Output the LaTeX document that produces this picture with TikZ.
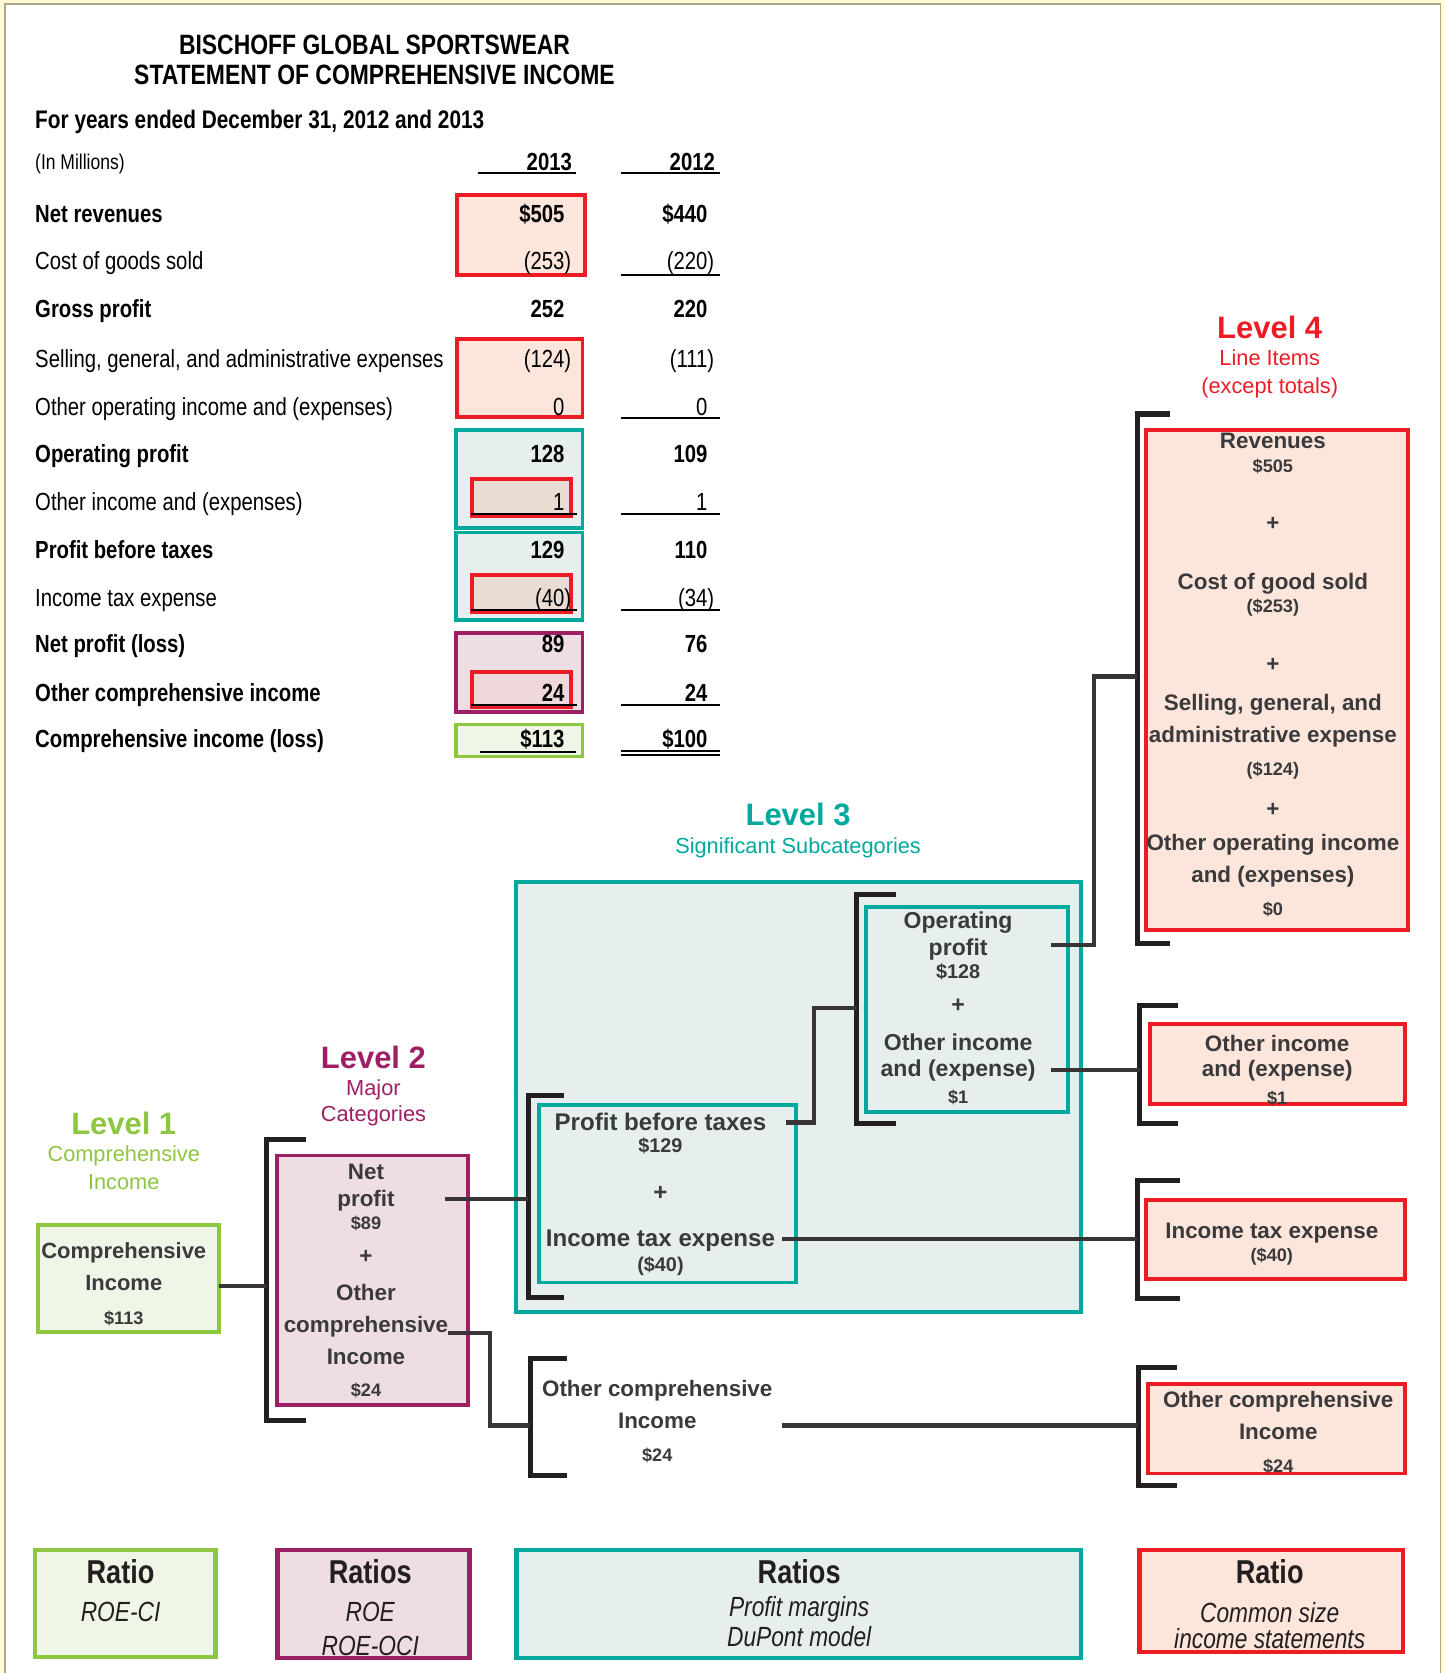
\documentclass[tikz,border=0pt]{standalone}
\usepackage{fontspec}
\setmainfont{Liberation Sans}
\newfontfamily\narrowfont[FakeStretch=0.82]{Liberation Sans}
\usetikzlibrary{fit}

\definecolor{lvred}{HTML}{ED1C24}
\definecolor{lvredfill}{HTML}{FCE5DA}
\definecolor{lvteal}{HTML}{00A99D}
\definecolor{lvtealfill}{HTML}{E6EFEE}
\definecolor{lvpurple}{HTML}{9E1F63}
\definecolor{lvpurplefill}{HTML}{EEDEE4}
\definecolor{lvgreen}{HTML}{8DC63F}
\definecolor{lvgreenfill}{HTML}{F0F6E7}
\definecolor{redonteal}{HTML}{E8DCD3}
\definecolor{redonpurple}{HTML}{EED8D9}
\definecolor{inktext}{HTML}{3A3A3C}
\definecolor{bracketink}{HTML}{231F20}
\definecolor{pagecream}{HTML}{FFFAD2}
\definecolor{pageedge}{HTML}{A9A88F}

% table fonts
\newcommand\tb{\narrowfont\bfseries\fontsize{11.6}{13}\selectfont}
\newcommand\tr{\narrowfont\fontsize{11.6}{13}\selectfont}
\newcommand\rp{\rlap{)}}
% amounts inside the level boxes
\newcommand\amt[1]{{\fontsize{8.5}{10}\selectfont #1}}
\newcommand\amtb[1]{{\fontsize{9.3}{10}\selectfont #1}}
\newcommand\lvtitle{\bfseries\fontsize{14.5}{16}\selectfont}
\newcommand\rtitle{\upshape\bfseries\fontsize{15.5}{16}\selectfont}

\begin{document}
\begin{tikzpicture}[x=0.5pt,y=-0.5pt,
  every node/.style={inner sep=0pt,outer sep=0pt},
  redbox/.style={draw=lvred,fill=lvredfill,line width=1.8pt,inner sep=0pt},
  tealbox/.style={draw=lvteal,fill=lvtealfill,line width=1.8pt,inner sep=0pt},
  purplebox/.style={draw=lvpurple,fill=lvpurplefill,line width=1.8pt,inner sep=0pt},
  greenbox/.style={draw=lvgreen,fill=lvgreenfill,line width=1.8pt,inner sep=0pt},
  lbl/.style={text=inktext,align=center,anchor=north,font=\bfseries\fontsize{10.5}{12.5}\selectfont},
  lvl/.style={align=center,anchor=north,font=\fontsize{10.2}{12.5}\selectfont},
  ratio/.style={text=bracketink,align=center,anchor=north,font=\narrowfont\itshape\fontsize{13}{14}\selectfont},
  brk/.style={draw=bracketink,line width=2.4pt},
  conn/.style={draw=bracketink!90!white,line width=2pt},
  uline/.style={line width=0.8pt}]

\useasboundingbox (0,0) rectangle (1354,1568);
\fill[pagecream] (0,0) rectangle (1354,1568);
\fill[white] (5,4) rectangle (1350,1580);
\draw[pageedge,line width=0.8pt] (5,1580) -- (5,4) -- (1350,4) -- (1350,1580);

% ---- statement ----
\node[font=\narrowfont\bfseries\fontsize{13.1}{14}\selectfont,align=center] (title) at (351,56)
  {BISCHOFF GLOBAL SPORTSWEAR\\STATEMENT OF COMPREHENSIVE INCOME};
\node[anchor=base west,font=\narrowfont\bfseries\fontsize{11.9}{13}\selectfont] (period) at (33,120)
  {For years ended December 31, 2012 and 2013};
\node[anchor=base west,font=\narrowfont\fontsize{10}{12}\selectfont] (unit) at (33,159) {(In Millions)};
\node[anchor=base east,font=\tb] (yr13) at (536,160) {2013};
\node[anchor=base east,font=\tb] (yr12) at (670,160) {2012};
\draw[uline] (448,162) -- (540,162);
\draw[uline] (582,162) -- (675,162);

\node[redbox,fit={(428,183) (548,258)}] (t-rev) {};
\node[redbox,fit={(428,318) (546,391)}] (t-sga) {};
\node[tealbox,fit={(427,403) (546,495)}] (t-op) {};
\node[tealbox,fit={(427,499) (546,581)}] (t-pbt) {};
\node[redbox,fill=redonteal,fit={(442,449) (535,484)}] (t-oi) {};
\node[redbox,fill=redonteal,fit={(442,539) (535,574)}] (t-it) {};
\node[purplebox,fit={(427,593) (546,667)}] (t-np) {};
\node[redbox,fill=redonpurple,fit={(442,630) (535,663)}] (t-oci) {};
\node[greenbox,fit={(427,679) (546,709)}] (t-ci) {};

\foreach \y/\txt/\va/\vb/\f in {
  201/Net revenues/\$505/\$440/\tb,
  245/Cost of goods sold/(253\rp/(220\rp/\tr,
  290/Gross profit/252/220/\tb,
  336/{Selling, general, and administrative expenses}/(124\rp/(111\rp/\tr,
  381/Other operating income and (expenses)/0/0/\tr,
  425/Operating profit/128/109/\tb,
  470/Other income and (expenses)/1/1/\tr,
  515/Profit before taxes/129/110/\tb,
  560/Income tax expense/(40\rp/(34\rp/\tr,
  604/Net profit (loss)/89/76/\tb,
  649/Other comprehensive income/24/24/\tb,
  693/Comprehensive income (loss)/\$113/\$100/\tb}
{
  \node[anchor=base west,font=\f] (lab-\y) at (33,\y+8) {\txt};
  \node[anchor=base east,font=\f] (a-\y) at (529,\y+8) {\va};
  \node[anchor=base east,font=\f] (b-\y) at (663,\y+8) {\vb};
}
\foreach \y in {258,392,482,572,661,704}
  \draw[uline] (582,\y) -- (675,\y);
\draw[uline] (582,707.5) -- (675,707.5);
\foreach \y in {482,572,661}
  \draw[uline] (441,\y) -- (541,\y);
\draw[uline] (450,705) -- (540,705);

% ---- level headings ----
\node[lvl,text=lvred] (lv4) at (1190,296) {{\lvtitle Level 4}\\[0.5pt]Line Items\\[0.5pt](except totals)};
\node[lvl,text=lvteal] (lv3) at (748,753) {{\lvtitle Level 3}\\[0.5pt]Significant Subcategories};
\node[lvl,text=lvpurple] (lv2) at (350,980) {{\lvtitle Level 2}\\[0.5pt]Major\\[-0.5pt]Categories};
\node[lvl,text=lvgreen] (lv1) at (116,1042) {{\lvtitle Level 1}\\[0.5pt]Comprehensive\\[0.5pt]Income};

% ---- level boxes ----
\node[tealbox,fit={(484,827) (1013,1230)}] (l3big) {};
\node[tealbox,fit={(505,1036) (746,1202)}] (pbt3) {};
\node[tealbox,fit={(812,850) (1001,1042)}] (op3) {};
\node[greenbox,fit={(36,1148) (205,1248)}] (ci1) {};
\node[purplebox,fit={(260,1083) (439,1317)}] (np2) {};
\node[redbox,fit={(1074,403) (1320,872)}] (l4big) {};
\node[redbox,fit={(1078,960) (1317,1035)}] (oi4) {};
\node[redbox,fit={(1074,1125) (1317,1199)}] (it4) {};
\node[redbox,fit={(1076,1297) (1317,1381)}] (oci4) {};

\node[lbl,font=\bfseries\fontsize{10.3}{12.5}\selectfont] (ci1-t) at (116,1165) {Comprehensive\\[2.5pt]Income\\[3pt]\amt{\$113}};
\node[lbl] (np2-t) at (343,1091)
  {Net\\profit\\[-1.5pt]\amt{\$89}\\[3.5pt]+\\[4.5pt]Other\\[2.5pt]comprehensive\\[2.5pt]Income\\[2.5pt]\amt{\$24}};
\node[lbl,font=\bfseries\fontsize{11.3}{12.5}\selectfont] (pbt3-t) at (619,1043)
  {Profit before taxes\\[-2pt]\amtb{\$129}\\[10pt]+\\[9pt]Income tax expense\\[-1pt]\amtb{(\$40)}};
\node[lbl,font=\bfseries\fontsize{10.8}{12.5}\selectfont] (op3-t) at (898,855)
  {Operating\\profit\\[-2pt]\amtb{\$128}\\[3.5pt]+\\[5.5pt]Other income\\[-0.5pt]and (expense)\\[0.5pt]\amt{\$1}};
\node[lbl] (oci3-t) at (616,1294) {Other comprehensive\\[2.5pt]Income\\[3pt]\amt{\$24}};
\node[lbl] (l4big-t) at (1193,406)
  {Revenues\\[-1.5pt]\amt{\$505}\\[15pt]+\\[15pt]Cost of good sold\\[-1.5pt]\amt{(\$253)}\\[15pt]+\\[5.5pt]%
   Selling, general, and\\[2.5pt]administrative expense\\[3pt]\amt{(\$124)}\\[7pt]+\\[3.5pt]%
   Other operating income\\[2.5pt]and (expenses)\\[3pt]\amt{\$0}};
\node[lbl] (oi4-t) at (1197,970) {Other income\\[-0.5pt]and (expense)\\[0.5pt]\amt{\$1}};
\node[lbl] (it4-t) at (1192,1146) {Income tax expense\\[-1.5pt]\amt{(\$40)}};
\node[lbl] (oci4-t) at (1198,1304) {Other comprehensive\\[2.5pt]Income\\[3pt]\amt{\$24}};

% ---- brackets ----
\foreach \x/\t/\b/\e in {250/1068/1331/287, 495/1027/1216/529, 497/1273/1383/531,
    803/838/1053/840, 1066/388/884/1097, 1068/942/1053/1104,
    1066/1106/1217/1106, 1067/1282/1392/1103}
  \draw[brk] (\e,\t) -- (\x,\t) -- (\x,\b) -- (\e,\b);

\coordinate (b2) at (250,1205);
\coordinate (b3pbt) at (495,1124);
\coordinate (b3oci) at (497,1336);
\coordinate (b3op) at (803,945);
\coordinate (b4big) at (1066,634);
\coordinate (b4oi) at (1068,1003);
\coordinate (b4it) at (1066,1161);
\coordinate (b4oci) at (1067,1336);
\coordinate (np-out) at (417,1124);
\coordinate (oci2-out) at (420,1249);
\coordinate (pbt-out) at (737,1052);
\coordinate (it3-out) at (733,1161);
\coordinate (oci3-out) at (733,1336);
\coordinate (op-out) at (985,886);
\coordinate (oi3-out) at (985,1003);

% ---- connectors ----
\draw[conn] (ci1.east |- b2) -- (b2);
\draw[conn] (np-out) -- (b3pbt);
\draw[conn] (oci2-out) -- ++(39,0) |- (b3oci);
\draw[conn] (pbt-out) -- ++(26,0) |- (b3op);
\draw[conn] (it3-out) -- (b4it);
\draw[conn] (oci3-out) -- (b4oci);
\draw[conn] (op-out) -- ++(40,0) |- (b4big);
\draw[conn] (oi3-out) -- (b4oi);

% ---- ratios ----
\node[greenbox,line width=2pt,fit={(33,1453) (202,1553)}] (rg) {};
\node[purplebox,line width=2pt,fit={(260,1453) (440,1554)}] (rp) {};
\node[tealbox,line width=2pt,fit={(484,1453) (1013,1554)}] (rt) {};
\node[redbox,line width=2pt,fit={(1068,1453) (1315,1548)}] (rr) {};
\node[ratio] (rg-t) at (113,1462) {{\rtitle Ratio}\\[3.5pt]ROE-CI};
\node[ratio] (rp-t) at (347,1462) {{\rtitle Ratios}\\[3.5pt]ROE\\[2pt]ROE-OCI};
\node[ratio] (rt-t) at (749,1462) {{\rtitle Ratios}\\[1.5pt]Profit margins\\DuPont model};
\node[ratio] (rr-t) at (1190,1462) {{\rtitle Ratio}\\[4pt]Common size\\[-1.5pt]income statements};
\end{tikzpicture}
\end{document}
